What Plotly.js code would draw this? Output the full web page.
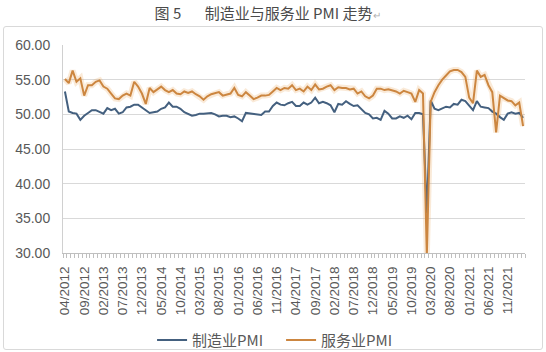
<!DOCTYPE html>
<html><head><meta charset="utf-8">
<script src="https://cdn.plot.ly/plotly-3.0.1.min.js"></script>
<style>
html,body{margin:0;padding:0;background:#fff;}
#wrap{position:relative;width:546px;height:352px;}
#chart{position:absolute;left:0;top:0;width:546px;height:352px;}
#frame{position:absolute;left:3px;top:26px;width:538px;height:322px;border:1px solid #d9d9d9;border-radius:3px;pointer-events:none;}
</style></head>
<body><div id="wrap"><div id="chart"></div><div id="frame"></div></div>
<script>
// Tick labels (every 5th month, starting 04/2012)
const tickLabels = ['04/2012','09/2012','02/2013','07/2013','12/2013','05/2014','10/2014','03/2015','08/2015','01/2016','06/2016','11/2016','04/2017','09/2017','02/2018','07/2018','12/2018','05/2019','10/2019','03/2020','08/2020','01/2021','06/2021','11/2021'];

// 制造业PMI, monthly 04/2012 - 03/2022
const manufacturing = [
 53.3,50.4,50.2,50.1,49.2,49.8,50.2,50.6,50.6,
 50.4,50.1,50.9,50.6,50.8,50.1,50.3,51.0,51.1,51.4,51.4,51.0,
 50.5,50.2,50.3,50.4,50.8,51.0,51.7,51.1,51.1,50.8,50.3,50.1,
 49.8,49.9,50.1,50.1,50.2,50.2,50.0,49.7,49.8,49.8,49.6,49.7,
 49.4,49.0,50.2,50.1,50.1,50.0,49.9,50.4,50.4,51.2,51.7,51.4,
 51.3,51.6,51.8,51.2,51.2,51.7,51.4,51.7,52.4,51.6,51.8,51.6,
 51.3,50.3,51.5,51.4,51.9,51.5,51.2,51.3,50.8,50.2,50.0,49.4,
 49.5,49.2,50.5,50.1,49.4,49.4,49.7,49.5,49.8,49.3,50.2,50.2,
 50.0,35.7,52.0,50.8,50.6,50.9,51.1,51.0,51.5,51.4,52.1,51.9,
 51.3,50.6,51.9,51.1,51.0,50.9,50.4,50.1,49.6,49.2,50.1,50.3,
 50.1,50.2,49.5
];

// 服务业PMI, monthly 04/2012 - 03/2022
const services = [
 55.1,54.5,56.3,54.7,55.2,52.7,54.2,54.2,54.7,
 54.9,54.0,53.7,53.0,52.3,52.2,52.7,53.0,52.7,54.7,54.0,53.0,
 51.5,53.8,53.2,53.6,54.0,53.5,53.2,53.5,53.0,52.9,53.3,53.1,
 53.3,52.9,52.6,52.1,52.6,52.9,53.0,53.2,52.7,52.9,53.0,53.8,
 52.8,52.6,53.2,52.7,52.2,52.4,52.7,52.7,52.8,53.3,53.8,53.5,
 53.8,53.7,54.2,53.5,53.7,53.3,54.0,53.5,54.3,53.6,53.7,54.0,
 54.2,53.5,53.9,53.8,53.8,53.6,53.7,53.0,53.3,52.6,52.3,52.7,
 53.7,53.7,53.5,53.6,53.5,53.3,53.0,53.4,53.2,53.0,51.8,53.5,
 53.0,29.6,51.8,53.2,54.2,55.0,55.6,56.2,56.4,56.4,56.1,55.4,
 52.4,51.6,56.3,55.4,55.7,54.2,53.2,47.4,52.7,52.3,52.0,51.9,
 51.3,51.7,48.3
];

const idx = manufacturing.map((_, i) => i);
const tickIdx = tickLabels.map((_, k) => k * 5);

const blue = '#44607f';
const orange = '#cc8640';

const traces = [
  {x: idx, y: services, type: 'scatter', mode: 'lines', showlegend: false, hoverinfo: 'skip',
   line: {color: 'rgba(236,170,100,0.25)', width: 6}},
  {x: idx, y: manufacturing, type: 'scatter', mode: 'lines', name: '制造业PMI',
   line: {color: blue, width: 2}},
  {x: idx, y: services, type: 'scatter', mode: 'lines', name: '服务业PMI',
   line: {color: orange, width: 2}}
];

const layout = {
  width: 546, height: 352,
  margin: {l: 63, r: 21, t: 45, b: 99, autoexpand: false},
  paper_bgcolor: '#ffffff', plot_bgcolor: '#ffffff',
  font: {family: '"Noto Sans CJK SC", "Liberation Sans", Arial, sans-serif', color: '#595959'},
  title: {
    text: '图\u00a05\u00a0\u00a0\u00a0\u00a0\u00a0\u00a0\u00a0制造业与服务业\u00a0PMI\u00a0走势<span style="color:#b0b0b0;font-size:10px">↵</span>',
    font: {size: 15, color: '#4a4a4a', weight: 400}, x: 0.49, xref: 'container', xanchor: 'center', y: 0.962, yanchor: 'middle'
  },
  xaxis: {
    range: [-0.5, manufacturing.length - 0.5], automargin: false,
    tickmode: 'array', tickvals: tickIdx, ticktext: tickLabels,
    tickangle: -90, ticks: '', ticklabelstandoff: 7,
    tickfont: {size: 13.5, color: '#595959', family: '"Liberation Sans", Arial, sans-serif'},
    showgrid: false, zeroline: false,
    showline: true, linecolor: '#bfbfbf', linewidth: 1,
    minor: {ticks: 'outside', ticklen: 4, tickcolor: '#bfbfbf', tickmode: 'linear', tick0: -0.5, dtick: 1, showgrid: false}
  },
  yaxis: {
    range: [30, 60], dtick: 5, tick0: 30, tickformat: '.2f', automargin: false,
    tickfont: {size: 14, color: '#595959', family: '"Liberation Sans", Arial, sans-serif'},
    ticks: '', ticklabelstandoff: 9,
    showgrid: true, gridcolor: '#d9d9d9', gridwidth: 1, zeroline: false,
    showline: true, linecolor: '#d0d0d0', linewidth: 1
  },
  legend: {
    orientation: 'h', x: 0.472, xanchor: 'center', y: -0.42, yanchor: 'middle',
    font: {size: 15, color: '#595959'}, bgcolor: 'rgba(0,0,0,0)', itemwidth: 30, entrywidth: 84
  },
  showlegend: true
};

Plotly.newPlot('chart', traces, layout, {staticPlot: true, displayModeBar: false});
</script></body></html>
